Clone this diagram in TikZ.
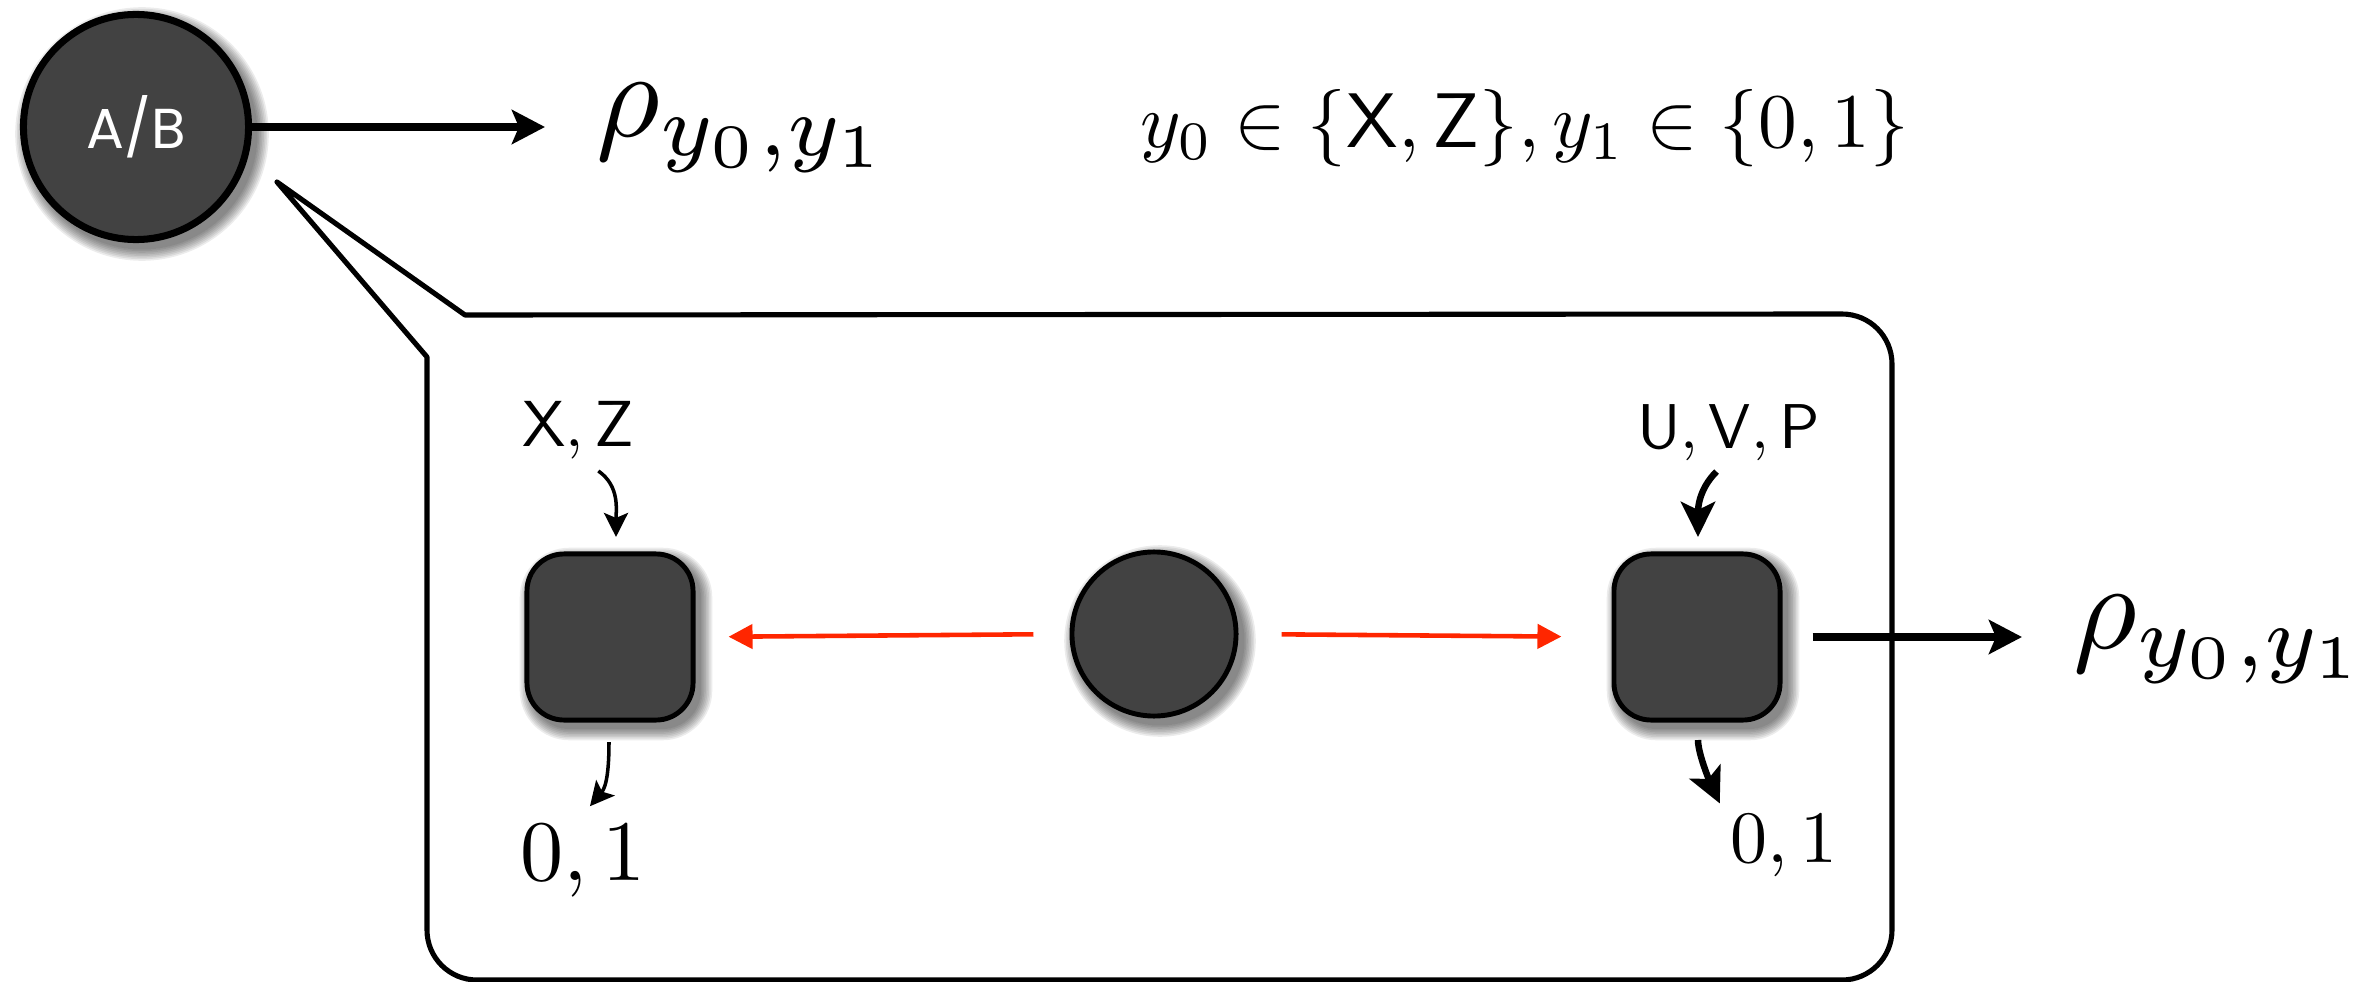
\documentclass[tikz,border=0pt]{standalone}
\usepackage{fontspec}
\newfontfamily\abfont{Poppins}
\usetikzlibrary{arrows.meta,calc}
\definecolor{darkfill}{RGB}{66,66,66}
\definecolor{redarr}{RGB}{255,38,0}
\newcommand{\shcirc}[3]{\foreach \i in {1,...,8}{\fill[black,opacity=0.075] ({#1+6},{-#2-7}) circle ({#3-2+1.6*\i});}}
\newcommand{\shsq}[3]{\foreach \i in {1,...,8}{\pgfmathsetmacro\ee{1.6*\i-2}\pgfmathsetmacro\rr{0.37+0.016*\i}%
\fill[black,opacity=0.075,rounded corners=\rr cm] ({#1-#3-\ee+6},{-#2+#3+\ee-7}) rectangle ({#1+#3+\ee+6},{-#2-#3-\ee-7});}}
\tikzset{
  darknode/.style={draw=black, fill=darkfill, line width=1.4pt, inner sep=0pt},
  bignode/.style={darknode, circle, line width=2pt, minimum size=2.25cm, text=white},
  sqnode/.style={darknode, rectangle, rounded corners=0.37cm, minimum size=1.66cm},
  midnode/.style={darknode, circle, minimum size=1.64cm},
  lbl/.style={anchor=base west, inner sep=0pt},
  bigarr/.style={line width=2.2pt, -{Stealth[length=0.33cm, width=0.34cm, inset=0.07cm]}},
  redline/.style={draw=redarr, line width=1.3pt, -{Triangle[length=0.24cm, width=0.24cm]}},
  thinarr/.style={line width=1pt, -{Stealth[length=0.24cm, width=0.24cm, inset=0.05cm]}},
  thickarr/.style={line width=1.85pt, -{Stealth[length=0.35cm, width=0.34cm, inset=0.08cm]}},
  bubble/.style={draw=black, line width=1.45pt, line join=round}
}
\begin{document}
\begin{tikzpicture}[x=0.01cm, y=0.01cm]
\useasboundingbox (0,0) rectangle (2378,-982);
% speech bubble
\draw[bubble] (277,-182) -- (465,-315) -- (1842,-314) arc[start angle=90, end angle=0, radius=50]
  -- (1892,-930) arc[start angle=0, end angle=-90, radius=50]
  -- (477,-980) arc[start angle=-90, end angle=-180, radius=50]
  -- (427,-357) -- cycle;
% shadows
\shcirc{136}{127}{116}
\shcirc{1154}{634}{85}
\shsq{610}{637}{85.5}
\shsq{1697}{637}{85.5}
% nodes
\node[bignode] (ab) at (136,-127) {\raisebox{-0.06cm}{\abfont\fontsize{16}{19}\selectfont A/B}};
\node[sqnode] (sqL) at (610,-637) {};
\node[sqnode] (sqR) at (1697,-637) {};
\node[midnode] (mid) at (1154,-634) {};
% labels
\node[lbl, scale=3.5] (rho1) at (594,-137) {$\rho_{y_0,y_1}$};
\node[lbl, scale=3.5] (rho2) at (2071,-648) {$\rho_{y_0,y_1}$};
\node[lbl, scale=2.2] (dom) at (1139,-148) {$y_0\in\{\mathsf{X},\mathsf{Z}\}, y_1\in\{0,1\}$};
\node[lbl, scale=1.85] (xz) at (521,-446) {$\mathsf{X},\mathsf{Z}$};
\node[lbl, scale=1.8] (uvp) at (1636,-448) {$\mathsf{U},\mathsf{V},\mathsf{P}$};
\node[lbl, scale=2.45] (outL) at (519,-880) {$0,1$};
\node[lbl, scale=2.1] (outR) at (1729,-862) {$0,1$};
% connectors
\draw[bigarr, shorten >=0.49cm] (ab.east) -- (ab.east -| rho1.west);
\draw[redline, shorten <=0.36cm, shorten >=0.33cm] (mid.west) -- (sqL.east);
\draw[redline, shorten <=0.43cm, shorten >=0.50cm] (mid.east) -- (sqR.west);
\draw[bigarr, shorten <=0.30cm, shorten >=0.49cm] (sqR.east) -- (sqR.east -| rho2.west);
\draw[thinarr] ([xshift=0.20cm, yshift=-0.11cm]xz.south) to[out=-35, in=90] ([xshift=0.06cm, yshift=0.145cm]sqL.north);
\draw[thinarr] ([xshift=-0.01cm, yshift=-0.195cm]sqL.south) to[out=-90, in=50] ([xshift=0.07cm, yshift=0.165cm]outL.north);
\draw[thickarr] ([xshift=-0.12cm, yshift=-0.10cm]uvp.south) to[out=225, in=90] ([xshift=0.01cm, yshift=0.145cm]sqR.north);
\draw[thickarr] ([xshift=0.01cm, yshift=-0.175cm]sqR.south) to[out=-90, in=115, looseness=0.6] ([xshift=-0.64cm, yshift=0.095cm]outR.north);
\end{tikzpicture}
\end{document}
